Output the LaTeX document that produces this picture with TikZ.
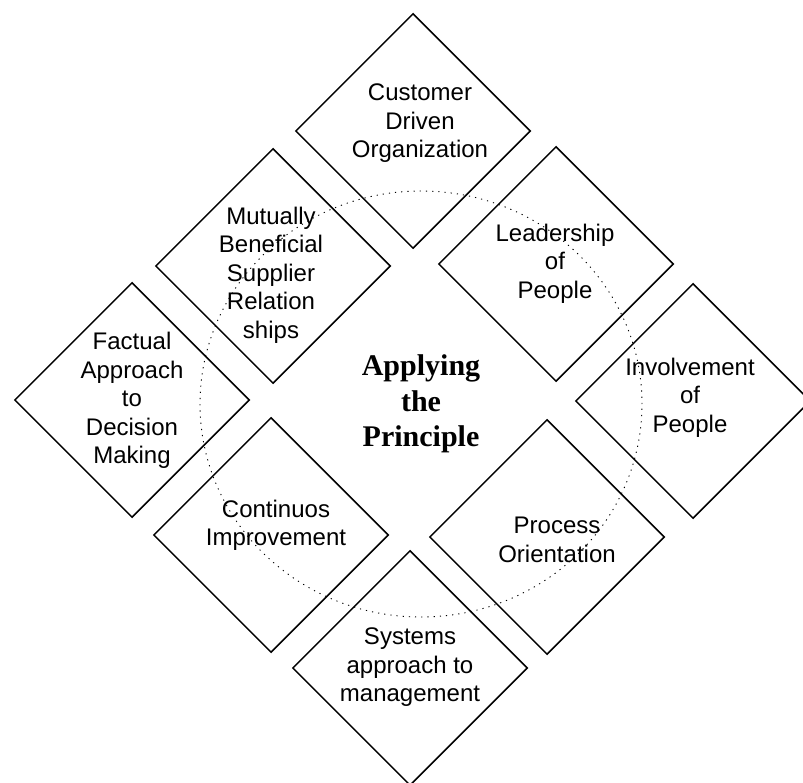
\documentclass[tikz,border=0pt]{standalone}
\usepackage{fontspec}
\setmainfont{Liberation Sans}
\newfontfamily\headfont{Liberation Serif}
\usetikzlibrary{shapes.geometric}
\tikzstyle{box}=[diamond, draw, line width = 1.5pt, minimum width = 235pt, minimum height = 235pt, inner sep = 0pt]
\tikzstyle{txt}=[align = center, inner sep = 0pt, font = \fontsize{24}{28.5}\selectfont]
\tikzstyle{ring}=[ellipse, draw, line width = .9pt, dash pattern = on 1.2pt off 5pt, minimum width = 442pt, minimum height = 426pt, align = center, font = \headfont\bfseries\fontsize{30}{35.5}\selectfont]
\begin{document}
\begin{tikzpicture}[x = 1pt, y = -1pt]
\useasboundingbox (0,0) rectangle (803,783);
\node (cust) at (413, 131) [box] {};
\node (mutu) at (273, 266) [box] {};
\node (lead) at (556, 264) [box] {};
\node (fact) at (132, 400) [box] {};
\node (invo) at (693, 401) [box] {};
\node (cont) at (271, 535) [box] {};
\node (proc) at (547, 537) [box] {};
\node (syst) at (410, 668) [box] {};
%%%%%%%%%%%%%%%%%%%%%%%
\node (core) at (421, 404) [ring] {Applying\\the\\Principle};
%%%%%%%%%%%%%%%%%%%%%%%
\node (cust') at (420, 123.5) [txt] {Customer\\Driven\\Organization};
\node (mutu') at (271, 275) [txt] {Mutually\\Beneficial\\Supplier\\Relation\\ships};
\node (lead') at (555, 263.5) [txt] {Leadership\\of\\People};
\node (fact') at (132, 400.5) [txt] {Factual\\Approach\\to\\Decision\\Making};
\node (invo') at (690, 397.5) [txt] {Involvement\\of\\People};
\node (cont') at (276, 525.5) [txt] {Continuos\\Improvement};
\node (proc') at (557, 540) [txt] {Process\\Orientation};
\node (syst') at (410, 667.5) [txt] {Systems\\approach to\\management};
\end{tikzpicture}
\end{document}
